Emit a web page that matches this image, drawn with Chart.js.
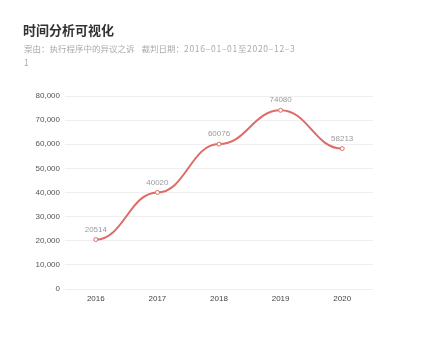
<!DOCTYPE html>
<html>
<head>
<meta charset="utf-8">
<script src="https://cdn.jsdelivr.net/npm/chart.js@4/dist/chart.umd.min.js"></script>
<style>
    body { margin: 0; background: #fff; font-family: "Liberation Sans", "Noto Sans CJK SC", sans-serif; }
    #wrap { position: relative; width: 438px; height: 354px; overflow: hidden; }
    #title { position: absolute; left: 23px; top: 23px; font-size: 13px; line-height: 13px; font-weight: bold; color: #333; font-family: "Noto Sans CJK SC", sans-serif; }
    #subtitle { position: absolute; left: 24px; top: 41px; font-size: 8.5px; line-height: 14px; color: #aaa; font-family: "Noto Sans CJK SC", sans-serif; }
    #subtitle .gap { display: inline-block; width: 7px; }
    #subtitle .date { letter-spacing: 0.7px; }
    canvas { position: absolute; left: 0; top: 0; }
</style>
</head>
<body>
<div id="wrap">
    <canvas id="chart" width="438" height="354"></canvas>
    <div id="title">时间分析可视化</div>
    <div id="subtitle">案由：执行程序中的异议之诉<span class="gap"></span>裁判日期：<span class="date">2016–01–01至2020–12–3</span><br>1</div>
</div>
<script>
const years = ['2016', '2017', '2018', '2019', '2020'];
const counts = [20514, 40020, 60076, 74080, 58213];
const yTicks = [0, 10000, 20000, 30000, 40000, 50000, 60000, 70000, 80000];

const lineColor = '#dd6b66';
const tickFont = { size: 8, family: '"Liberation Sans", sans-serif' };

// Flat (horizontal) tangents at each point, like the echarts smooth line
const flatSmooth = {
    id: 'flatSmooth',
    beforeDatasetsDraw(chart) {
        chart.getSortedVisibleDatasetMetas().forEach(meta => {
            meta.dataset.updateControlPoints(chart.chartArea, 'x');
            const pts = meta.data;
            const k = 0.45;
            pts.forEach((p, i) => {
                const prev = pts[i - 1] || p;
                const next = pts[i + 1] || p;
                p.cp1x = p.x - k * (p.x - prev.x);
                p.cp1y = p.y;
                p.cp2x = p.x + k * (next.x - p.x);
                p.cp2y = p.y;
            });
        });
    }
};

// Value labels above points
const valueLabels = {
    id: 'valueLabels',
    afterDatasetsDraw(chart) {
        const ctx = chart.ctx;
        ctx.save();
        ctx.font = '8px "Liberation Sans", sans-serif';
        ctx.fillStyle = '#9a9a9a';
        ctx.textAlign = 'center';
        ctx.textBaseline = 'middle';
        const meta = chart.getDatasetMeta(0);
        meta.data.forEach((p, i) => {
            ctx.fillText(String(counts[i]), p.x, p.y - 10);
        });
        ctx.restore();
    }
};

new Chart(document.getElementById('chart'), {
    type: 'line',
    data: {
        labels: years,
        datasets: [{
            data: counts,
            borderColor: lineColor,
            borderWidth: 2,
            tension: 0.4,
            pointRadius: 2,
            pointBorderWidth: 1,
            pointBackgroundColor: '#fff',
            pointBorderColor: lineColor,
            fill: false
        }]
    },
    options: {
        responsive: false,
        animation: false,
        layout: { padding: { top: 96, right: 65, bottom: 0, left: 0 } },
        plugins: {
            legend: { display: false },
            tooltip: { enabled: false }
        },
        scales: {
            x: {
                offset: true,
                grid: { display: false, drawTicks: false },
                border: { display: false },
                ticks: { color: '#444', font: tickFont, padding: 5 },
                afterFit: scale => { scale.height = 65; }
            },
            y: {
                min: 0,
                max: 80000,
                afterBuildTicks: scale => { scale.ticks = yTicks.map(v => ({ value: v })); },
                grid: { color: '#efefef', drawTicks: false },
                border: { display: false },
                ticks: {
                    color: '#555',
                    padding: 5,
                    font: tickFont,
                    callback: v => v.toLocaleString('en-US')
                },
                afterFit: scale => { scale.width = 65; }
            }
        }
    },
    plugins: [flatSmooth, valueLabels]
});
</script>
</body>
</html>
